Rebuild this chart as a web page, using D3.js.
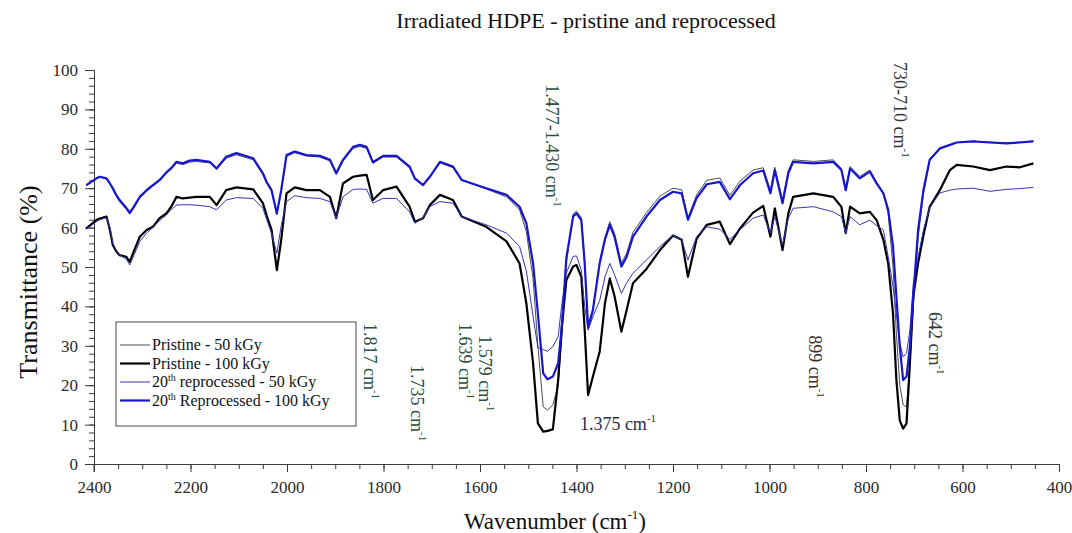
<!DOCTYPE html>
<html>
<head>
<meta charset="utf-8">
<script src="https://cdn.jsdelivr.net/npm/d3@7"></script>
<style>
body { margin: 0; background: #fff; }
</style>
</head>
<body>
<script>
var width = 1072
var height = 533
var margin = { left: 94, top: 70, right: 13, bottom: 69 }
var innerWidth = width - margin.left - margin.right
var innerHeight = height - margin.top - margin.bottom

// wavenumber (cm-1) as it reads on the x axis
var wavenumber = [
    2416, 2395, 2388, 2374, 2367, 2361, 2354, 2347, 2333, 2326,
    2319, 2305, 2291, 2278, 2264, 2250, 2240, 2229, 2216, 2202,
    2188, 2160, 2146, 2126, 2105, 2070, 2050, 2042, 2032, 2021,
    2012, 2001, 1984, 1960, 1932, 1911, 1898, 1884, 1863, 1849,
    1835, 1822, 1801, 1773, 1746, 1735, 1718, 1704, 1683, 1656,
    1638, 1587, 1545, 1518, 1504, 1490, 1480, 1469, 1460, 1449,
    1438, 1431, 1421, 1407, 1400, 1390, 1383, 1376, 1366, 1352,
    1341, 1331, 1321, 1307, 1296, 1283, 1255, 1227, 1200, 1182,
    1169, 1151, 1130, 1103, 1082, 1061, 1034, 1013, 998, 989,
    973, 961, 951, 909, 868, 851, 842, 833, 813, 792,
    778, 764, 754, 744, 737, 730, 723, 716, 709, 702,
    692, 681, 668, 647, 626, 612, 578, 543, 509, 481,
    453
]

// transmittance (%)
var pristine50 = [
    70.6, 72.3, 72.8, 72.3, 71.0, 69.6, 68.0, 66.6, 64.6, 63.4,
    64.6, 67.5, 69.2, 70.5, 71.8, 73.8, 74.8, 76.3, 76.0, 76.6,
    76.8, 76.4, 74.8, 77.6, 78.5, 77.2, 73.4, 71.2, 69.2, 63.3,
    69.2, 78.0, 79.0, 78.2, 77.9, 76.9, 73.5, 76.8, 80.1, 80.6,
    80.1, 76.3, 77.9, 77.9, 75.2, 72.2, 70.9, 73.0, 76.4, 75.2,
    72.0, 69.8, 67.8, 64.5, 59.0, 47.0, 30.0, 14.5, 13.7, 15.0,
    20.0, 31.0, 51.0, 63.5, 64.2, 62.5, 51.0, 34.0, 39.0, 51.5,
    57.5, 61.5, 58.5, 51.0, 53.5, 58.8, 63.8, 68.0, 70.0, 69.6,
    62.5, 68.3, 72.0, 72.6, 68.2, 71.8, 74.6, 75.2, 69.5, 75.3,
    67.0, 74.5, 77.2, 76.8, 77.2, 75.0, 70.0, 75.5, 73.0, 74.6,
    71.6, 68.8, 63.5, 50.0, 33.0, 20.0, 15.0, 14.5, 25.0, 40.0,
    57.5, 68.5, 77.0, 80.0, 81.0, 81.6, 81.9, 81.7, 81.5, 81.7,
    82.0
]
var pristine100 = [
    59.8, 61.9, 62.3, 62.8, 59.4, 55.6, 54.0, 53.0, 52.6, 51.3,
    53.5, 57.7, 59.4, 60.2, 62.4, 63.6, 65.3, 67.8, 67.4, 67.6,
    67.8, 67.8, 65.7, 69.5, 70.2, 69.7, 66.2, 63.0, 59.4, 49.2,
    56.9, 68.7, 70.2, 69.5, 69.5, 67.8, 62.4, 71.2, 72.9, 73.2,
    73.4, 67.0, 69.5, 70.4, 65.3, 61.5, 62.4, 65.7, 68.3, 67.0,
    62.8, 60.2, 56.5, 50.9, 40.8, 25.6, 10.3, 8.2, 8.4, 8.8,
    21.3, 34.0, 46.7, 50.1, 50.5, 47.5, 34.0, 17.5, 22.2, 28.5,
    40.8, 47.1, 42.5, 33.6, 39.1, 45.9, 49.5, 54.3, 58.0, 56.9,
    47.5, 57.2, 60.7, 61.5, 55.8, 59.8, 63.8, 65.5, 57.7, 64.9,
    54.3, 63.6, 67.8, 68.7, 67.8, 65.3, 58.6, 65.3, 63.6, 64.0,
    61.9, 56.9, 50.9, 38.2, 21.3, 11.0, 9.0, 10.3, 25.6, 42.5,
    51.0, 58.0, 65.3, 69.5, 74.6, 75.9, 75.5, 74.6, 75.5, 75.3,
    76.3
]
var reprocessed50 = [
    59.6, 61.5, 62.0, 62.5, 60.0, 56.0, 54.2, 53.0, 52.0, 50.5,
    52.5, 56.5, 58.6, 60.0, 61.8, 63.2, 64.6, 65.7, 65.8, 65.8,
    65.7, 65.3, 64.5, 67.0, 67.6, 67.4, 64.9, 62.0, 58.5, 53.5,
    60.5, 66.6, 68.1, 67.6, 67.4, 66.6, 62.4, 67.8, 69.7, 69.8,
    69.7, 66.2, 67.4, 67.4, 64.0, 61.1, 62.5, 65.3, 66.6, 66.2,
    62.8, 60.7, 58.6, 55.2, 49.0, 37.5, 29.5, 29.0, 28.6, 29.8,
    32.3, 40.0, 48.5, 52.7, 52.8, 49.2, 40.0, 34.0, 37.4, 41.5,
    47.5, 50.9, 48.0, 43.3, 46.0, 48.4, 51.8, 55.2, 58.1, 56.9,
    51.8, 57.7, 60.2, 59.6, 57.0, 59.5, 62.4, 63.2, 58.6, 62.8,
    55.6, 62.4, 64.9, 65.3, 64.0, 62.8, 58.6, 62.8, 60.7, 61.9,
    60.5, 59.4, 52.6, 45.0, 38.0, 30.6, 27.2, 28.1, 34.0, 45.9,
    52.5, 59.4, 65.0, 68.8, 69.5, 69.8, 70.0, 69.2, 69.7, 69.9,
    70.2
]
var reprocessed100 = [
    70.8, 72.5, 72.9, 72.5, 71.2, 70.0, 68.3, 67.0, 65.0, 63.8,
    65.0, 67.8, 69.5, 70.8, 72.1, 74.0, 75.1, 76.7, 76.3, 77.0,
    77.2, 76.7, 75.0, 78.0, 78.9, 77.6, 73.8, 71.5, 69.5, 63.6,
    69.5, 78.4, 79.3, 78.4, 78.2, 77.2, 73.8, 77.2, 80.5, 81.0,
    80.5, 76.6, 78.2, 78.2, 75.5, 72.5, 70.8, 72.9, 76.7, 75.5,
    72.1, 70.0, 68.3, 65.3, 61.1, 50.9, 38.2, 23.0, 21.5, 22.2,
    25.6, 34.0, 52.3, 62.8, 63.6, 61.9, 50.9, 34.8, 39.1, 50.9,
    57.0, 60.7, 57.6, 50.1, 52.6, 57.7, 62.8, 67.0, 69.1, 68.7,
    62.0, 67.5, 71.0, 71.6, 67.2, 70.8, 73.8, 74.5, 68.7, 74.6,
    66.2, 73.8, 76.7, 76.3, 76.7, 74.6, 69.5, 75.0, 72.5, 74.2,
    71.2, 68.7, 64.5, 55.2, 42.5, 29.8, 21.3, 22.2, 29.8, 42.5,
    59.4, 69.5, 77.2, 80.1, 81.0, 81.6, 81.9, 81.6, 81.4, 81.6,
    81.9
]

var xTicks = [2400, 2200, 2000, 1800, 1600, 1400, 1200, 1000, 800, 600, 400]
var yTicks = [0, 10, 20, 30, 40, 50, 60, 70, 80, 90, 100]

var series = [
    { name: 'Pristine - 50 kGy', values: pristine50, color: '#4d4d4d', width: 1 },
    { name: 'Pristine - 100 kGy', values: pristine100, color: '#000', width: 2.2 },
    { name: 'reprocessed - 50 kGy', sup: '20', values: reprocessed50, color: '#3535b5', width: 1 },
    { name: 'Reprocessed  - 100 kGy', sup: '20', values: reprocessed100, color: '#1616d2', width: 2.2 }
]

// peak labels, anchored at (wavenumber, transmittance)
var peakLabels = [
    { text: '1.477-1.430 cm', w: 1464, v: 96.4, rot: true, color: '#27503f' },
    { text: '730-710 cm', w: 742, v: 102.0, rot: true, color: '#333' },
    { text: '1.817 cm', w: 1841, v: 35.8, rot: true, color: '#27503f' },
    { text: '1.735 cm', w: 1744, v: 25.1, rot: true, color: '#27503f' },
    { text: '1.639 cm', w: 1644, v: 35.8, rot: true, color: '#27503f' },
    { text: '1.579 cm', w: 1603, v: 32.7, rot: true, color: '#27503f' },
    { text: '899 cm', w: 918, v: 32.7, rot: true, color: '#3a3030' },
    { text: '642 cm', w: 670, v: 38.6, rot: true, color: '#2e3a33' },
    { text: '1.375 cm', w: 1393, v: 8.6, rot: false, color: '#2b2b4a' }
]

var serif = '"Liberation Serif", "DejaVu Serif", serif'

var svg = d3.select('body').append('svg').attr('width', width).attr('height', height)
    .style('font-family', serif)
var g = svg.append('g').attr('transform', `translate(${margin.left},${margin.top})`)

var xScale = d3.scaleLinear().domain([2400, 400]).range([0, innerWidth])
var yScale = d3.scaleLinear().domain([0, 100]).range([innerHeight, 0])

// axes: minor ticks first, then major ticks with labels
var xMinor = d3.axisBottom(xScale).tickValues(d3.range(2400, 399, -50)).tickSize(5).tickSizeOuter(0)
var xMajor = d3.axisBottom(xScale).tickValues(xTicks).tickSize(8).tickSizeOuter(0).tickPadding(9).tickFormat(d3.format('d'))
var yMinor = d3.axisLeft(yScale).tickValues(d3.range(0, 101, 2)).tickSize(5).tickSizeOuter(0)
var yMajor = d3.axisLeft(yScale).tickValues(yTicks).tickSize(9).tickSizeOuter(0).tickPadding(7)

g.append('g').attr('transform', `translate(0,${innerHeight})`).call(xMinor).selectAll('text').remove()
g.append('g').attr('transform', `translate(0,${innerHeight})`).call(xMajor)
g.append('g').call(yMinor).selectAll('text').remove()
g.append('g').call(yMajor)

// y axis runs a little past the x axis
g.append('line').attr('x1', 0).attr('x2', 0).attr('y1', innerHeight).attr('y2', innerHeight + 8)

g.selectAll('.domain, .tick line, line').attr('stroke', '#3c3c3c')
g.selectAll('.tick text').attr('font-family', serif).attr('font-size', 17).attr('fill', '#2a2a2a')

var line = d3.line().x((d, i) => xScale(wavenumber[i])).y(d => yScale(d))

g.selectAll('.spectrum').data(series).enter().append('path')
    .attr('class', 'spectrum')
    .attr('d', d => line(d.values))
    .attr('fill', 'none')
    .attr('stroke', d => d.color)
    .attr('stroke-width', d => d.width)
    .attr('stroke-linejoin', 'round')

// peak labels
peakLabels.forEach(p => {
    var px = xScale(p.w), py = yScale(p.v)
    var t = g.append('text').attr('font-size', 18).attr('fill', p.color)
    if (p.rot) t.attr('transform', `translate(${px},${py}) rotate(90)`)
    else t.attr('x', px).attr('y', py)
    t.append('tspan').text(p.text)
    t.append('tspan').attr('font-size', 11).attr('dy', -8).text('-1')
})

// legend
var legend = g.append('g').attr('transform', 'translate(22,252)')
legend.append('rect').attr('width', 240).attr('height', 104)
    .attr('fill', '#fff').attr('stroke', '#444').attr('stroke-width', 1)
var rows = legend.selectAll('.row').data(series).enter().append('g')
    .attr('transform', (d, i) => `translate(0,${23 + i * 18.5})`)
rows.append('line').attr('x1', 4).attr('x2', 34)
    .attr('stroke', d => d.color).attr('stroke-width', d => d.width)
var lt = rows.append('text').attr('x', 36).attr('dy', '0.33em').attr('font-size', 16).attr('fill', '#111')
lt.each(function (d) {
    var t = d3.select(this)
    if (d.sup) {
        t.append('tspan').text(d.sup)
        t.append('tspan').attr('font-size', 10).attr('dy', -6).text('th')
        t.append('tspan').attr('dy', 6).text(' ' + d.name)
    } else {
        t.append('tspan').text(d.name)
    }
})

// titles
svg.append('text').attr('x', 586).attr('y', 28).attr('text-anchor', 'middle')
    .attr('font-size', 22).attr('fill', '#111').text('Irradiated HDPE - pristine and reprocessed')

var xt = svg.append('text').attr('x', 555).attr('y', 529).attr('text-anchor', 'middle')
    .attr('font-size', 23).attr('fill', '#111')
xt.append('tspan').text('Wavenumber (cm')
xt.append('tspan').attr('font-size', 13).attr('dy', -10).text('-1')
xt.append('tspan').attr('dy', 10).text(')')

svg.append('text').attr('transform', 'translate(37,282) rotate(-90)').attr('text-anchor', 'middle')
    .attr('font-size', 26).attr('fill', '#111').text('Transmittance (%)')
</script>
</body>
</html>
